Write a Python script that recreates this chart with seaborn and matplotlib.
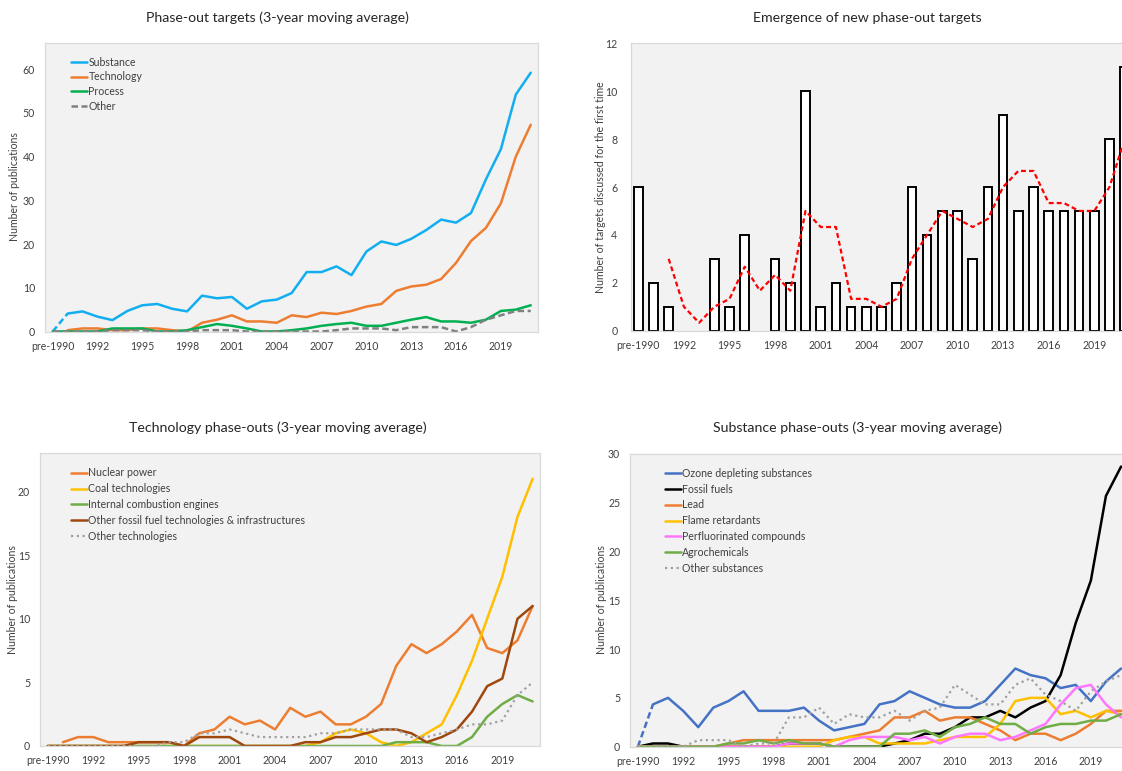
import numpy as np
import pandas as pd
import matplotlib
matplotlib.use("Agg")
import matplotlib.pyplot as plt
import seaborn as sns

# ---------------------------------------------------------------- data
categories = ["pre-1990"] + [str(y) for y in range(1990, 2022)]
nan = np.nan

# Phase-out targets (3-year moving average)
substance = [0, 4.1, 4.6, 3.4, 2.6, 4.7, 6.0, 6.3, 5.2, 4.6,
             8.2, 7.6, 7.9, 5.2, 6.9, 7.3, 8.8, 13.6, 13.6, 14.9,
             12.9, 18.3, 20.6, 19.8, 21.2, 23.2, 25.6, 24.9, 27.1, 34.8,
             41.7, 54.2, 59.2]
technology = [nan, 0.3, 0.7, 0.7, 0.3, 0.3, 0.7, 0.7, 0.3, 0.0,
              2.0, 2.7, 3.7, 2.3, 2.3, 2.0, 3.7, 3.3, 4.3, 4.0,
              4.7, 5.7, 6.3, 9.3, 10.3, 10.7, 12.0, 15.7, 20.7, 23.7,
              29.3, 40.0, 47.3]
process = [0, 0, 0, 0, 0.7, 0.7, 0.7, 0.0, 0.0, 0.3,
           1.0, 1.7, 1.3, 0.7, 0.0, 0.0, 0.3, 0.7, 1.3, 1.7,
           2.0, 1.3, 1.3, 2.0, 2.7, 3.3, 2.3, 2.3, 2.0, 2.7,
           4.7, 5.0, 6.0]
other = [0, 0, 0, 0, 0.3, 0.3, 0.3, 0, 0, 0,
         0.3, 0.3, 0.3, 0, 0, 0, 0, 0, 0, 0.3,
         0.7, 0.7, 0.7, 0.3, 1.0, 1.0, 1.0, 0.0, 1.0, 2.7,
         3.7, 4.7, 4.7]

# Emergence of new phase-out targets
new_targets = [6, 2, 1, 0, 0, 3, 1, 4, 0, 3,
               2, 10, 1, 2, 1, 1, 1, 2, 6, 4,
               5, 5, 3, 6, 9, 5, 6, 5, 5, 5,
               5, 8, 11]
new_targets_avg = [nan, nan, 3.0, 1.0, 0.33, 1.0, 1.33, 2.67, 1.67, 2.33,
                   1.67, 5.0, 4.33, 4.33, 1.33, 1.33, 1.0, 1.33, 3.0, 4.0,
                   5.0, 4.67, 4.33, 4.67, 6.0, 6.67, 6.67, 5.33, 5.33, 5.0,
                   5.0, 6.0, 8.0]

# Technology phase-outs (3-year moving average)
nuclear = [nan, 0.3, 0.7, 0.7, 0.3, 0.3, 0.3, 0.3, 0.3, 0.0,
           1.0, 1.3, 2.3, 1.7, 2.0, 1.3, 3.0, 2.3, 2.7, 1.7,
           1.7, 2.3, 3.3, 6.3, 8.0, 7.3, 8.0, 9.0, 10.3, 7.7,
           7.3, 8.3, 11.0]
coal = [0, 0, 0, 0, 0, 0, 0, 0, 0, 0,
        0, 0, 0, 0, 0, 0, 0, 0, 0.3, 1.0,
        1.3, 1.0, 0.3, 0.0, 0.3, 1.0, 1.7, 4.0, 6.7, 10.0,
        13.3, 18.0, 21.0]
combustion = [0, 0, 0, 0, 0, 0, 0, 0, 0, 0,
              0, 0, 0, 0, 0, 0, 0, 0, 0, 0,
              0, 0, 0, 0.3, 0.3, 0.3, 0.0, 0.0, 0.7, 2.3,
              3.3, 4.0, 3.5]
other_fossil = [0, 0, 0, 0, 0, 0, 0.3, 0.3, 0.3, 0,
                0.7, 0.7, 0.7, 0, 0, 0, 0, 0.3, 0.3, 0.7,
                0.7, 1.0, 1.3, 1.3, 1.0, 0.3, 0.7, 1.3, 2.7, 4.7,
                5.3, 10.0, 11.0]
other_tech = [0, 0, 0, 0, 0, 0, 0, 0, 0.3, 0.3,
              1.0, 1.0, 1.3, 1.0, 0.7, 0.7, 0.7, 0.7, 1.0, 1.0,
              1.3, 1.3, 1.3, 1.3, 0.7, 0.7, 1.0, 1.3, 1.7, 1.7,
              2.0, 4.0, 5.0]

# Substance phase-outs (3-year moving average)
ozone = [0, 4.33, 5.0, 3.67, 2.0, 4.0, 4.67, 5.67, 3.67, 3.67,
         3.67, 4.0, 2.67, 1.67, 2.0, 2.33, 4.33, 4.67, 5.67, 5.0,
         4.33, 4.0, 4.0, 4.67, 6.33, 8.0, 7.33, 7.0, 6.0, 6.33,
         4.67, 6.67, 8.0]
fossil = [0, 0.33, 0.33, 0, 0, 0, 0, 0, 0, 0,
          0.33, 0.33, 0.33, 0, 0, 0, 0, 0.33, 0.67, 1.33,
          1.33, 2.0, 3.0, 3.0, 3.67, 3.0, 4.0, 4.67, 7.33, 12.67,
          17.0, 25.67, 28.67]
lead = [0, 0, 0, 0, 0, 0, 0.33, 0.67, 0.67, 0.67,
        0.67, 0.67, 0.67, 0.67, 1.0, 1.33, 1.67, 3.0, 3.0, 3.67,
        2.67, 3.0, 3.0, 2.33, 1.67, 0.67, 1.33, 1.33, 0.67, 1.33,
        2.33, 3.67, 3.67]
flame = [0, 0, 0, 0, 0, 0, 0, 0, 0, 0,
         0, 0, 0, 0.67, 1.0, 1.0, 0.33, 0.33, 0.33, 0.33,
         0.67, 1.0, 1.0, 1.0, 2.33, 4.67, 5.0, 5.0, 3.33, 3.67,
         3.0, 3.67, 3.33]
perfluorinated = [0, 0, 0, 0, 0, 0, 0, 0, 0, 0,
                  0.33, 0.33, 0.33, 0, 0.67, 1.0, 1.0, 1.0, 0.67, 1.0,
                  0.33, 1.0, 1.33, 1.33, 0.67, 1.0, 1.67, 2.33, 4.33, 6.0,
                  6.33, 4.33, 3.0]
agro = [0, 0, 0, 0, 0, 0, 0.33, 0.33, 0.67, 0.33,
        0.67, 0.33, 0.33, 0, 0, 0, 0, 1.33, 1.33, 1.67,
        1.0, 2.0, 2.33, 3.0, 2.33, 2.33, 1.33, 2.0, 2.33, 2.33,
        2.67, 2.67, 3.33]
other_sub = [0, 0, 0, 0, 0.67, 0.67, 0.67, 0, 0.33, 0.33,
             3.0, 3.0, 4.0, 2.33, 3.33, 3.0, 3.0, 3.67, 2.67, 3.67,
             4.0, 6.33, 5.33, 4.33, 4.33, 6.33, 7.0, 5.33, 4.67, 3.67,
             5.67, 6.67, 7.33]

# ---------------------------------------------------------------- style
sns.set_theme(style="white")
plt.rcParams["font.family"] = ["Lato", "DejaVu Sans"]
TEXT = "#404040"

W, H = 1122, 771
fig = plt.figure(figsize=(W / 100, H / 100), dpi=100)
fig.patch.set_facecolor("white")


def box(x0, y0, x1, y1):
    return [x0 / W, 1 - y1 / H, (x1 - x0) / W, (y1 - y0) / H]


pos = np.arange(len(categories))
tick_idx = pos[::3]
tick_lab = [categories[i] for i in tick_idx]


def style_axes(ax, ymax, yticks, ypad=7.3):
    ax.set_facecolor("#F2F2F2")
    for s in ax.spines.values():
        s.set_color("#D9D9D9")
        s.set_linewidth(0.9)
    ax.set_xlim(-0.5, len(categories) - 0.5)
    ax.set_ylim(0, ymax)
    ax.set_xticks(tick_idx)
    ax.set_xticklabels(tick_lab)
    ax.set_yticks(yticks)
    ax.set_xlabel("")
    ax.set_ylabel("")
    ax.grid(False)
    ax.tick_params(axis="both", length=0, labelsize=7.6, colors=TEXT)
    ax.tick_params(axis="x", pad=6.5)
    ax.tick_params(axis="y", pad=ypad)


def line(ax, values, color, label=None, lw=1.8, ls="-", idx=None):
    x = pos if idx is None else pos[idx]
    y = np.asarray(values, dtype=float)
    if idx is not None:
        y = y[idx]
    kw = dict(label=label) if label else {}
    sns.lineplot(x=x, y=y, ax=ax, color=color, linewidth=lw,
                 linestyle=ls, legend=False, **kw)


def legend(ax, x, y, spacing=0.45):
    handles, labels = ax.get_legend_handles_labels()
    ax.legend(handles, labels, loc="upper left",
              bbox_to_anchor=(x / W, 1 - y / H),
              bbox_transform=fig.transFigure, frameon=False,
              fontsize=7.6, labelcolor=TEXT, handlelength=1.5,
              handletextpad=0.15, labelspacing=spacing,
              borderpad=0, borderaxespad=0)


DASH = (0, (2.6, 1.4))
DOT = (0, (1, 1.6))

# ---------------------------------------------------------------- panel 1
ax1 = fig.add_axes(box(45.2, 43, 538.2, 331.5))
line(ax1, substance, "#12AEEF", ls=DASH, idx=slice(0, 2))
line(ax1, substance, "#12AEEF", "Substance", idx=slice(1, None))
line(ax1, technology, "#ED7D31", "Technology")
line(ax1, process, "#00B050", "Process")
line(ax1, other, "#808080", "Other", ls=DASH)
style_axes(ax1, 66, range(0, 61, 10))
legend(ax1, 71, 56.5, spacing=0.36)

# ---------------------------------------------------------------- panel 2
ax2 = fig.add_axes(box(630.7, 43.3, 1132.3, 330.7))
sns.barplot(x=categories, y=new_targets, order=categories, color="white",
            saturation=1, edgecolor="black", linewidth=1.4, width=0.57,
            ax=ax2)
# years without any new target get no outline at the baseline
for patch in ax2.patches:
    if patch.get_height() == 0:
        patch.set_visible(False)
line(ax2, new_targets_avg, "#FF0000", lw=1.6, ls=(0, (2.2, 1.4)))
style_axes(ax2, 12, range(0, 13, 2), ypad=9.6)

# ---------------------------------------------------------------- panel 3
ax3 = fig.add_axes(box(40.2, 453.3, 540.2, 746))
line(ax3, nuclear, "#ED7D31", "Nuclear power")
line(ax3, coal, "#FFC000", "Coal technologies")
line(ax3, combustion, "#70AD47", "Internal combustion engines")
line(ax3, other_fossil, "#9E480E", "Other fossil fuel technologies & infrastructures")
line(ax3, other_tech, "#A0A0A0", "Other technologies", lw=1.6, ls=DOT)
style_axes(ax3, 23, range(0, 21, 5))
legend(ax3, 71, 467.5)

# ---------------------------------------------------------------- panel 4
ax4 = fig.add_axes(box(630.3, 453.6, 1128.6, 746.7))
line(ax4, ozone, "#4472C4", ls=DASH, idx=slice(0, 2))
line(ax4, ozone, "#4472C4", "Ozone depleting substances", idx=slice(1, None))
line(ax4, fossil, "#000000", "Fossil fuels")
line(ax4, lead, "#ED7D31", "Lead")
line(ax4, flame, "#FFC000", "Flame retardants")
line(ax4, perfluorinated, "#FF77FF", "Perfluorinated compounds")
line(ax4, agro, "#70AD47", "Agrochemicals")
line(ax4, other_sub, "#A0A0A0", "Other substances", lw=1.6, ls=DOT)
style_axes(ax4, 30, range(0, 31, 5))
legend(ax4, 665, 468)

# ---------------------------------------------------------------- text
title_kw = dict(ha="center", va="center", fontsize=10.2, color="#262626")
fig.text(277.5 / W, 1 - 18 / H, "Phase-out targets (3-year moving average)", **title_kw)
fig.text(867 / W, 1 - 18 / H, "Emergence of new phase-out targets", **title_kw)
fig.text(277.5 / W, 1 - 428 / H, "Technology phase-outs (3-year moving average)", **title_kw)
fig.text(858 / W, 1 - 428 / H, "Substance phase-outs (3-year moving average)", **title_kw)

ylab_kw = dict(ha="center", va="center", rotation=90, fontsize=7.6, color=TEXT)
fig.text(15 / W, 1 - 187 / H, "Number of publications", **ylab_kw)
fig.text(600 / W, 1 - 187 / H, "Number of targets discussed for the first time", **ylab_kw)
fig.text(12.7 / W, 1 - 600 / H, "Number of publications", **ylab_kw)
fig.text(601.5 / W, 1 - 600 / H, "Number of publications", **ylab_kw)

fig.savefig("out.png", dpi=100, facecolor="white")
